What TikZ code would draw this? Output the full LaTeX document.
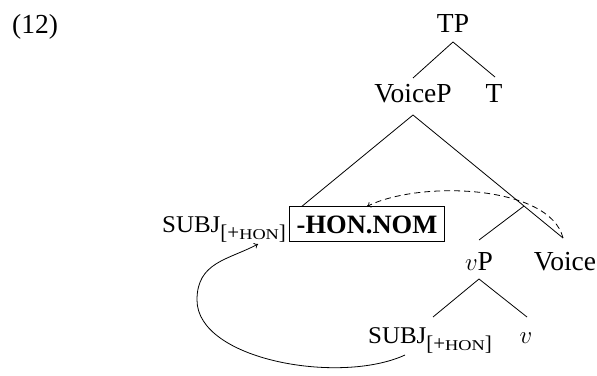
\documentclass[tikz,border=0pt]{standalone}
\usepackage{fontspec}
\setmainfont{Liberation Serif}
\usetikzlibrary{calc,arrows.meta}

% faked small capitals for the subject label and its feature
\newcommand\subjlabel{{\fontsize{24}{28}\selectfont\addfontfeatures{FakeStretch=1.04}SUBJ}%
  \raisebox{-7.5pt}{\fontsize{21}{24}\selectfont[+{\fontsize{15}{18}\selectfont\addfontfeatures{FakeStretch=1.22}HON}]}}

\begin{document}
\begin{tikzpicture}[x=1pt,y=-1pt,
  lbl/.style={inner sep=0pt,font=\fontsize{27.5}{32}\selectfont},
  edge/.style={line width=0.8pt},
  morph/.style={draw,line width=0.8pt,inner xsep=7.5pt,inner ysep=8.7pt,
    text height=17.5pt,text depth=0pt,font=\fontsize{26.5}{32}\selectfont\bfseries},
  agree/.style={line width=0.8pt,dashed,dash pattern=on 6pt off 4pt,-{To[length=4pt,width=6pt]}},
  move/.style={line width=0.8pt,-{To[length=4pt,width=6pt]}}]
\useasboundingbox (0,0) rectangle (597,375);

% example number
\node[lbl,anchor=base west] (exnum) at (12,33) {(12)};

% tree nodes
\node[lbl,anchor=base] (tp) at (453,32) {TP};
\node[lbl,anchor=base] (voicep) at (413,102) {VoiceP};
\node[lbl,anchor=base] (t) at (494,102) {T};
\node[morph,anchor=base] (hon) at (367,233) {-HON.NOM};
\node[lbl,anchor=base west] (subjA) at (162,232) {\subjlabel};
\node[lbl,anchor=base] (vp) at (479,270) {$v$P};
\node[lbl,anchor=base] (voice) at (565,270) {Voice};
\node[lbl,anchor=base] (subjB) at (430,343) {\subjlabel};
\node[lbl,anchor=base] (vhead) at (526,343) {$v$};

% branch points
\coordinate (vpTop) at ($(voicep.base)+(0,13)$);
\coordinate (voiceTop) at ($(voice.base)+(-2,-32)$);
\coordinate (bar) at ($(vpTop)!0.74!(voiceTop)$);

% branches
\draw[edge] ($(tp.base)+(0,10)$) -- ($(voicep.base)+(0,-24)$);
\draw[edge] ($(tp.base)+(0,10)$) -- ($(t.base)+(1,-25)$);
\draw[edge] (vpTop) -- ($(hon.north west)+(13,0)$);
\draw[edge] (vpTop) -- (voiceTop);
\draw[edge] (bar) -- ($(vp.base)+(0,-30)$);
\draw[edge] ($(vp.base)+(0,9)$) -- ($(subjB.base)+(3,-26)$);
\draw[edge] ($(vp.base)+(0,9)$) -- ($(vhead.base)+(1,-26)$);

% agreement arrow from Voice to the marker
\draw[agree] (voiceTop) .. controls (550,185) and (420,180) .. (hon.north);

% movement of the subject
\coordinate (lowStart) at ($(subjB.base)+(-25,12)$);
\coordinate (upEnd) at ($(subjA.base east)+(-28,12)$);
\draw[move] (lowStart) .. controls (340,385) and (197,360) .. (197,300)
  .. controls (197,262) and (228,260) .. (upEnd);
\end{tikzpicture}
\end{document}
